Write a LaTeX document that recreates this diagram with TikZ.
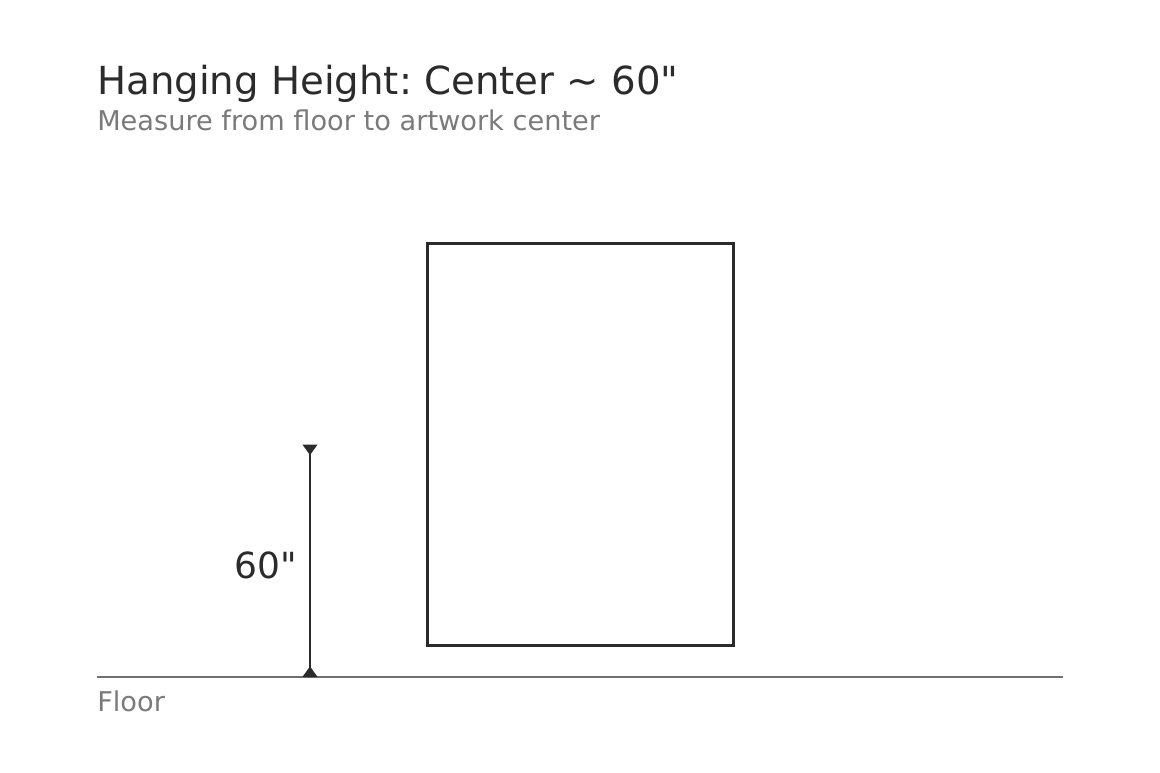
\documentclass[tikz,border=0pt]{standalone}
\usepackage{fontspec}
\setmainfont{DejaVu Sans}
\frenchspacing
\usetikzlibrary{arrows.meta}
\definecolor{inkcolor}{HTML}{2B2B2B}
\definecolor{softcolor}{HTML}{7A7A7A}
\definecolor{floorcolor}{HTML}{707070}

\begin{document}
\begin{tikzpicture}[x = 0.75pt, y = -0.75pt,
        caption/.style = {anchor = base west, inner sep = 0pt, text = softcolor, font = \fontsize{20.4pt}{24pt}\selectfont}]

        \useasboundingbox (0, 0) rectangle (1160, 773);

        \node [anchor = base west, inner sep = 0pt, text = inkcolor, font = \fontsize{29pt}{34pt}\selectfont] (title) at (97, 95) {Hanging Height: Center \char`~{} 60\textquotedbl};
        \node [caption] (subtitle) at (97, 131) {Measure from floor to artwork center};

        % Artwork
        \node [draw = inkcolor, line width = 2.25pt, rectangle, minimum width = 229.5pt, minimum height = 301.5pt, inner sep = 0pt] (frame) at (580.5, 444.5) {};

        % Floor
        \coordinate (floorL) at (97, 677);
        \coordinate (floorR) at (1063, 677);
        \draw [floorcolor, line width = 1.7pt] (floorL) -- (floorR);
        \node [caption] (floor) at (97, 711) {Floor};

        % Height mark
        \coordinate (mid) at (310, 444.5);
        \coordinate (base) at (310, 677);
        \draw [inkcolor, line width = 1.5pt, {Triangle[reversed, length = 8pt, width = 11pt]}-{Triangle[reversed, length = 8pt, width = 11pt]}] (mid) -- (base);
        \node [anchor = east, inner sep = 0pt, text = inkcolor, font = \fontsize{27pt}{32pt}\selectfont] (height) at (297, 565) {60\textquotedbl};

    \end{tikzpicture}
\end{document}
